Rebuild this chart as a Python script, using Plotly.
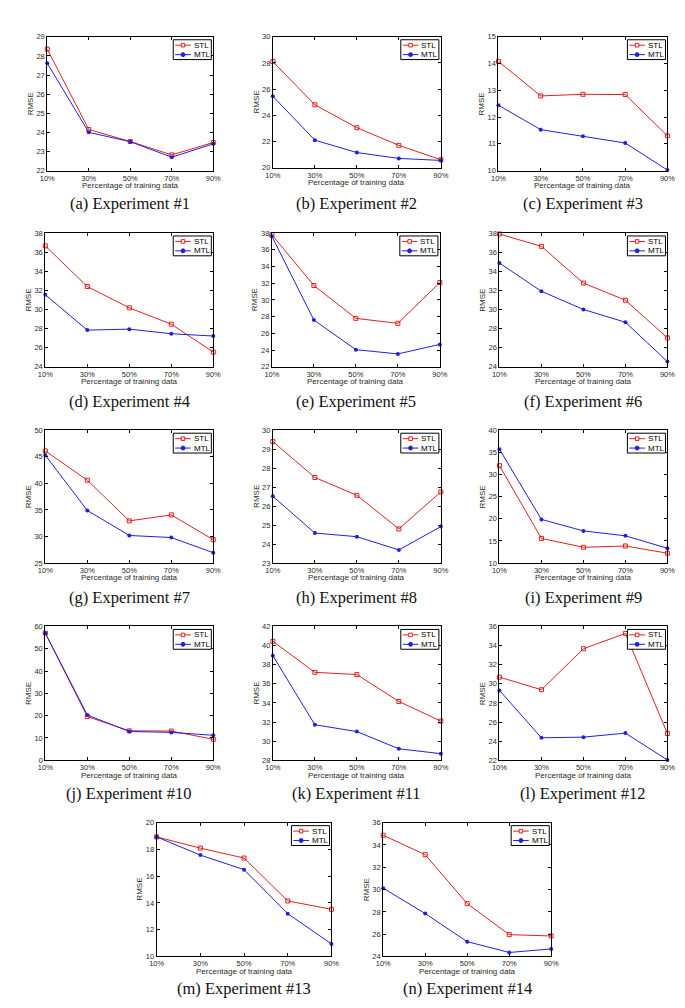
import plotly.graph_objects as go

W, H = 685, 1008

pct = [10, 30, 50, 70, 90]
pct_labels = ["10%", "30%", "50%", "70%", "90%"]
series_names = ["STL", "MTL"]

captions = ["(a) Experiment #1", "(b) Experiment #2", "(c) Experiment #3",
            "(d) Experiment #4", "(e) Experiment #5", "(f) Experiment #6",
            "(g) Experiment #7", "(h) Experiment #8", "(i) Experiment #9",
            "(j) Experiment #10", "(k) Experiment #11", "(l) Experiment #12",
            "(m) Experiment #13", "(n) Experiment #14"]

stl_a = [28.35, 24.15, 23.52, 22.82, 23.47]
mtl_a = [27.62, 24.00, 23.51, 22.70, 23.40]
stl_b = [28.10, 24.80, 23.05, 21.70, 20.60]
mtl_b = [25.45, 22.10, 21.15, 20.70, 20.55]
stl_c = [14.08, 12.79, 12.85, 12.84, 11.30]
mtl_c = [12.44, 11.53, 11.28, 11.03, 10.02]
stl_d = [36.65, 32.40, 30.17, 28.46, 25.54]
mtl_d = [31.54, 27.84, 27.94, 27.46, 27.22]
stl_e = [37.80, 31.72, 27.79, 27.20, 32.08]
mtl_e = [37.60, 27.59, 24.05, 23.54, 24.68]
stl_f = [37.90, 36.60, 32.76, 30.97, 27.03]
mtl_f = [34.86, 31.90, 30.00, 28.66, 24.55]
stl_g = [46.10, 40.60, 32.94, 34.06, 29.40]
mtl_g = [45.30, 34.90, 30.19, 29.80, 26.94]
stl_h = [29.40, 27.51, 26.57, 24.80, 26.75]
mtl_h = [26.52, 24.58, 24.39, 23.69, 24.92]
stl_i = [32.00, 15.56, 13.56, 13.85, 12.22]
mtl_i = [35.70, 19.85, 17.26, 16.15, 13.33]
stl_j = [57.00, 19.60, 13.20, 13.10, 9.40]
mtl_j = [57.00, 20.30, 12.90, 12.50, 11.20]
stl_k = [40.44, 37.20, 36.97, 34.15, 32.10]
mtl_k = [38.94, 31.72, 31.00, 29.20, 28.69]
stl_l = [30.70, 29.38, 33.67, 35.27, 24.80]
mtl_l = [29.31, 24.35, 24.42, 24.84, 22.03]
stl_m = [18.94, 18.10, 17.36, 14.15, 13.53]
mtl_m = [18.94, 17.58, 16.49, 13.20, 10.94]
stl_n = [34.87, 33.13, 28.74, 25.96, 25.84]
mtl_n = [30.13, 27.85, 25.33, 24.36, 24.68]

y_ranges = [(22, 29, 1), (20, 30, 2), (10, 15, 1),
            (24, 38, 2), (22, 38, 2), (24, 38, 2),
            (25, 50, 5), (23, 30, 1), (10, 40, 5),
            (0, 60, 10), (28, 42, 2), (22, 36, 2),
            (10, 20, 2), (24, 36, 2)]

stl_all = [stl_a, stl_b, stl_c, stl_d, stl_e, stl_f, stl_g,
           stl_h, stl_i, stl_j, stl_k, stl_l, stl_m, stl_n]
mtl_all = [mtl_a, mtl_b, mtl_c, mtl_d, mtl_e, mtl_f, mtl_g,
           mtl_h, mtl_i, mtl_j, mtl_k, mtl_l, mtl_m, mtl_n]

# layout boxes in pixels: (left, right, top, bottom)
boxes = [(32, 202, 25, 160), (263, 435, 25, 157), (494, 667, 25, 160),
         (30, 202, 223, 358), (262, 434, 223, 358), (495, 667, 223, 358),
         (30, 202, 422, 556), (263, 435, 422, 556), (495, 667, 422, 556),
         (30, 202, 620, 755), (263, 435, 620, 755), (495, 667, 620, 755),
         (144, 323, 818, 953), (376, 548, 818, 953)]
caption_y = [193, 193, 193, 393, 393, 393, 591, 591, 591,
             789, 789, 789, 985, 985]

RED = "#dd2020"
BLUE = "#2020dd"
TXT = "#2a2a2a"
SANS = "Liberation Sans, Arial, sans-serif"
SERIF = "Liberation Serif, Times New Roman, serif"


def fx(px):
    return px / W


def fy(py):
    return 1 - py / H


fig = go.Figure()
layout = dict(width=W, height=H, margin=dict(l=0, r=0, t=0, b=0),
              paper_bgcolor="white", plot_bgcolor="white",
              showlegend=False, shapes=[], annotations=[])

for i in range(14):
    n = i + 1
    xa = "x" if n == 1 else f"x{n}"
    ya = "y" if n == 1 else f"y{n}"
    L, R, T, B = boxes[i]
    lo, hi, dt = y_ranges[i]

    fig.add_trace(go.Scatter(
        x=pct, y=stl_all[i], name=series_names[0], mode="lines+markers",
        line=dict(color=RED, width=1),
        marker=dict(symbol="square-open", size=4, color=RED, line=dict(width=1, color=RED)),
        xaxis=xa, yaxis=ya, cliponaxis=False))
    fig.add_trace(go.Scatter(
        x=pct, y=mtl_all[i], name=series_names[1], mode="lines+markers",
        line=dict(color=BLUE, width=1),
        marker=dict(symbol="circle", size=4, color=BLUE),
        xaxis=xa, yaxis=ya, cliponaxis=False))

    axcommon = dict(showline=True, linecolor="black", linewidth=1, mirror="ticks",
                    ticks="inside", ticklen=3, tickcolor="black", tickwidth=1,
                    showgrid=False, zeroline=False,
                    tickfont=dict(family=SANS, size=7.5, color=TXT))
    layout["xaxis" if n == 1 else f"xaxis{n}"] = dict(
        domain=[fx(L), fx(R)], range=[10, 90], tickvals=pct, ticktext=pct_labels,
        anchor=ya, **axcommon)
    layout["yaxis" if n == 1 else f"yaxis{n}"] = dict(
        domain=[fy(B), fy(T)], range=[lo, hi], dtick=dt, tick0=lo,
        anchor=xa, **axcommon)

    # axis titles
    layout["annotations"].append(dict(
        x=fx((L + R) / 2), y=fy(B + 15), xref="paper", yref="paper",
        text="Percentage of training data", showarrow=False,
        font=dict(family=SANS, size=8, color=TXT), xanchor="center", yanchor="middle"))
    layout["annotations"].append(dict(
        x=fx(L - 17), y=fy((T + B) / 2), xref="paper", yref="paper",
        text="RMSE", showarrow=False, textangle=-90,
        font=dict(family=SANS, size=8, color=TXT), xanchor="center", yanchor="middle"))
    # caption
    layout["annotations"].append(dict(
        x=fx((L + R) / 2), y=fy(caption_y[i]), xref="paper", yref="paper",
        text=captions[i], showarrow=False,
        font=dict(family=SERIF, size=16.5, color="#111"), xanchor="center", yanchor="middle"))

    # legend box
    bx1, bx0 = R - 2, R - 41
    by0, by1 = T + 3, T + 23
    layout["shapes"].append(dict(type="rect", xref="paper", yref="paper",
                                 x0=fx(bx0), x1=fx(bx1), y0=fy(by0), y1=fy(by1),
                                 line=dict(color="black", width=1), fillcolor="white"))
    for k, (col, name) in enumerate([(RED, series_names[0]), (BLUE, series_names[1])]):
        ry = by0 + 5.5 + k * 9.5
        layout["shapes"].append(dict(type="line", xref="paper", yref="paper",
                                     x0=fx(bx0 + 2), x1=fx(bx0 + 18), y0=fy(ry), y1=fy(ry),
                                     line=dict(color=col, width=1)))
        mx = bx0 + 10
        if k == 0:
            layout["shapes"].append(dict(type="rect", xref="paper", yref="paper",
                                         x0=fx(mx - 1.8), x1=fx(mx + 1.8), y0=fy(ry - 1.8), y1=fy(ry + 1.8),
                                         line=dict(color=col, width=1), fillcolor="white"))
        else:
            layout["shapes"].append(dict(type="circle", xref="paper", yref="paper",
                                         x0=fx(mx - 2), x1=fx(mx + 2), y0=fy(ry - 2), y1=fy(ry + 2),
                                         line=dict(color=col, width=1), fillcolor=col))
        layout["annotations"].append(dict(
            x=fx(bx0 + 19), y=fy(ry), xref="paper", yref="paper", text=name,
            showarrow=False, font=dict(family=SANS, size=8, color="black"),
            xanchor="left", yanchor="middle"))

fig.update_layout(**layout)
fig.write_html("out.html")
